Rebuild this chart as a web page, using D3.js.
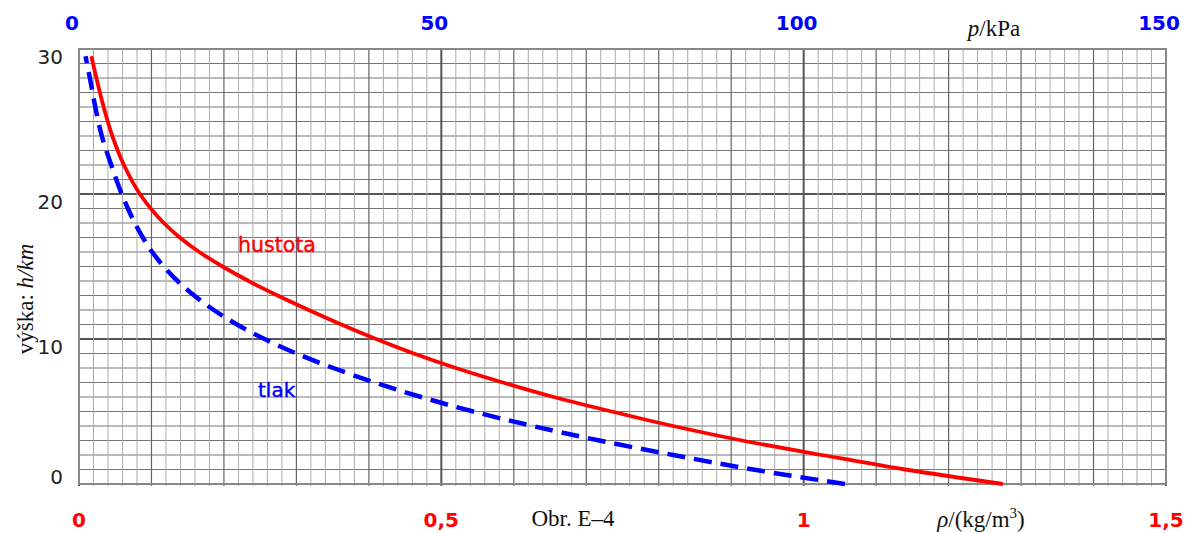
<!DOCTYPE html>
<html>
<head>
<meta charset="utf-8">
<script src="https://cdn.jsdelivr.net/npm/d3@7/dist/d3.min.js"></script>
<style>
  body { margin: 0; background: #fff; }
  svg { display: block; }
</style>
</head>
<body>
<svg id="chart" width="1189" height="533"></svg>
<script>
// heights (km) at which the curves were read
var heightsKm = [0, 1, 2, 3, 4, 5, 6, 7, 8, 9, 10, 11, 12, 13, 14, 15, 16, 17, 18, 19, 20, 22, 24, 26, 28, 29.5];
// density rho / (kg/m3) - red curve
var densityValues = [1.275, 1.14, 1.025, 0.915, 0.82, 0.735, 0.655, 0.585, 0.52, 0.462, 0.41, 0.362, 0.317, 0.274, 0.234, 0.198, 0.166, 0.139, 0.117, 0.099, 0.084, 0.062, 0.046, 0.034, 0.024, 0.017];
// pressure p / kPa - blue dashed curve
var pressureValues = [105.7, 93, 82, 71.8, 62.6, 54.4, 47.2, 40.8, 35.1, 30, 25.6, 21.8, 18.6, 15.9, 13.6, 11.7, 10.1, 8.8, 7.7, 6.75, 5.9, 4.45, 3.15, 2.25, 1.5, 0.9];

var densityTicks = [0, 0.5, 1, 1.5];
var densityTickLabels = ["0", "0,5", "1", "1,5"];
var pressureTicks = [0, 50, 100, 150];
var heightTicks = [0, 10, 20, 30];

var svg = d3.select("#chart");
var mLeft = 79, mRight = 1166, mTop = 49, mBottom = 484;

var x = d3.scaleLinear().domain([0, 1.5]).range([mLeft, mRight]);
var xp = d3.scaleLinear().domain([0, 150]).range([mLeft, mRight]);
var y = d3.scaleLinear().domain([0, 30]).range([mBottom, mTop]);

//grid
var g = svg.append("g");
d3.range(0, 31).forEach(function(h) {
  var major = h % 10 == 0 && h > 0 && h < 30;
  g.append("line")
    .attr("x1", mLeft).attr("x2", mRight)
    .attr("y1", y(h)).attr("y2", y(h))
    .attr("stroke", major ? "#555" : "#777")
    .attr("stroke-width", major ? 2.2 : 1);
});
d3.range(0, 76).forEach(function(i) {
  var v = i * 0.02;
  var kind = i % 25 == 0 ? 2 : (i % 5 == 0 ? 1 : 0);
  g.append("line")
    .attr("x1", x(v)).attr("x2", x(v))
    .attr("y1", mTop).attr("y2", mBottom + 2)
    .attr("stroke", ["#aaa", "#666", "#555"][kind])
    .attr("stroke-width", [1, 1.2, 2][kind]);
});
g.append("rect")
  .attr("x", mLeft).attr("y", mTop)
  .attr("width", mRight - mLeft).attr("height", mBottom - mTop)
  .attr("fill", "none").attr("stroke", "#888").attr("stroke-width", 2);

// curves
var densityLine = d3.line()
  .x(function(d, i) { return x(densityValues[i]); })
  .y(function(d) { return y(d); })
  .curve(d3.curveMonotoneY);
var pressureLine = d3.line()
  .x(function(d, i) { return xp(pressureValues[i]); })
  .y(function(d) { return y(d); })
  .curve(d3.curveMonotoneY);

svg.append("path")
  .attr("d", pressureLine(heightsKm))
  .attr("fill", "none")
  .attr("stroke", "#0000ff")
  .attr("stroke-width", 4.5)
  .attr("stroke-dasharray", "18,9");
svg.append("path")
  .attr("d", densityLine(heightsKm))
  .attr("fill", "none")
  .attr("stroke", "#ff0000")
  .attr("stroke-width", 3.8);

// tick labels
svg.selectAll(".ytick").data(heightTicks).enter().append("text")
  .attr("x", 63)
  .attr("y", function(d) { return y(d) + (d == 0 ? -7.5 : 7.5); })
  .attr("text-anchor", "end")
  .attr("dominant-baseline", "central")
  .attr("font-family", "DejaVu Sans")
  .attr("font-size", 20)
  .attr("fill", "#222")
  .text(function(d) { return d; });

svg.selectAll(".ptick").data(pressureTicks).enter().append("text")
  .attr("x", function(d) { return xp(d) - 7; })
  .attr("y", 30)
  .attr("text-anchor", "middle")
  .attr("font-family", "DejaVu Sans")
  .attr("font-weight", "bold")
  .attr("font-size", 20)
  .attr("fill", "#0000ff")
  .text(function(d) { return d; });

svg.selectAll(".rtick").data(densityTicks).enter().append("text")
  .attr("x", function(d) { return x(d); })
  .attr("y", 527)
  .attr("text-anchor", "middle")
  .attr("font-family", "DejaVu Sans")
  .attr("font-weight", "bold")
  .attr("font-size", 20)
  .attr("fill", "#ff0000")
  .text(function(d, i) { return densityTickLabels[i]; });

// curve labels
svg.append("text").attr("x", 238).attr("y", 252)
  .attr("font-family", "DejaVu Sans").attr("font-size", 20.5)
  .attr("fill", "#ff0000").attr("stroke", "#ff0000").attr("stroke-width", 0.4)
  .text("hustota");
svg.append("text").attr("x", 258).attr("y", 397)
  .attr("font-family", "DejaVu Sans").attr("font-size", 20)
  .attr("fill", "#0000ff").attr("stroke", "#0000ff").attr("stroke-width", 0.4)
  .text("tlak");

// axis titles
var serif = "Liberation Serif";
var pt = svg.append("text").attr("x", 994).attr("y", 36)
  .attr("text-anchor", "middle").attr("font-family", serif).attr("font-size", 23).attr("fill", "#111");
pt.append("tspan").attr("font-style", "italic").text("p");
pt.append("tspan").text("/kPa");

var rt = svg.append("text").attr("x", 981).attr("y", 527)
  .attr("text-anchor", "middle").attr("font-family", serif).attr("font-size", 23).attr("fill", "#111");
rt.append("tspan").attr("font-style", "italic").text("ρ");
rt.append("tspan").text("/(kg/m");
rt.append("tspan").attr("font-size", 15).attr("dy", -9).text("3");
rt.append("tspan").attr("dy", 9).text(")");

svg.append("text").attr("x", 573).attr("y", 526)
  .attr("text-anchor", "middle").attr("font-family", serif).attr("font-size", 23)
  .attr("fill", "#111").text("Obr. E–4");

var ht = svg.append("text")
  .attr("transform", "translate(33,299) rotate(-90)")
  .attr("text-anchor", "middle").attr("font-family", serif).attr("font-size", 23).attr("fill", "#111");
ht.append("tspan").text("výška: ");
ht.append("tspan").attr("font-style", "italic").text("h/km");
</script>
</body>
</html>
